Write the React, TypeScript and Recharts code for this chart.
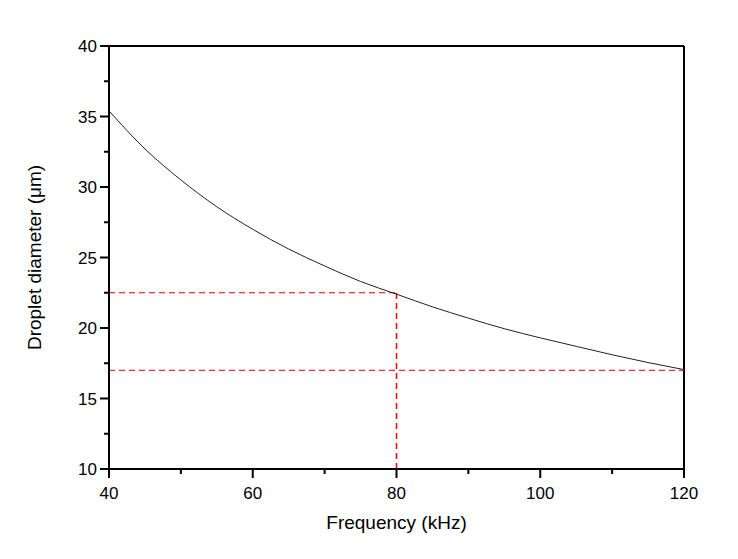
import React from 'react';
import { LineChart, Line, XAxis, YAxis, ReferenceLine } from 'recharts';

const frequencies = [40, 45, 50, 55, 60, 65, 70, 75, 80, 85, 90, 95, 100, 105, 110, 115, 120];
const diameters = [35.4, 32.7, 30.5, 28.6, 27.0, 25.6, 24.4, 23.3, 22.4, 21.5, 20.7, 19.95, 19.3, 18.7, 18.1, 17.55, 17.05];
const xTicks = [40, 50, 60, 70, 80, 90, 100, 110, 120];
const xMajor = [40, 60, 80, 100, 120];
const yTicks = [10, 12.5, 15, 17.5, 20, 22.5, 25, 27.5, 30, 32.5, 35, 37.5, 40];
const yMajor = [10, 15, 20, 25, 30, 35, 40];
const markFreq = 80;
const markDiam = 22.5;
const minDiam = 17.0;

const data = frequencies.map((f, i) => ({ f, d: diameters[i] }));

const FONT = 'Liberation Sans, Arial, sans-serif';

const XTick = (props: any) => {
  const { x, y, payload } = props;
  const major = xMajor.includes(payload.value);
  return (
    <g>
      <line x1={x} x2={x} y1={y} y2={y + (major ? 9 : 5)} stroke="#000" strokeWidth={2} />
      {major && (
        <text x={x} y={y + 30} textAnchor="middle" fontSize={17} fontFamily={FONT} fill="#000">
          {payload.value}
        </text>
      )}
    </g>
  );
};

const YTick = (props: any) => {
  const { x, y, payload } = props;
  const major = yMajor.includes(payload.value);
  return (
    <g>
      <line x1={x} x2={x - (major ? 9 : 5)} y1={y} y2={y} stroke="#000" strokeWidth={2} />
      {major && (
        <text x={x - 12} y={y + 6} textAnchor="end" fontSize={17} fontFamily={FONT} fill="#000">
          {payload.value}
        </text>
      )}
    </g>
  );
};

export default function App() {
  return (
    <div style={{ position: 'absolute', left: 0, top: 0, width: 738, height: 559, background: '#fff' }}>
      <LineChart width={738} height={559} data={data} margin={{ top: 46, right: 54, bottom: 0, left: 0 }}>
        <XAxis
          dataKey="f"
          type="number"
          domain={[40, 120]}
          ticks={xTicks}
          interval={0}
          tickSize={0}
          tickMargin={0}
          tickLine={false}
          tick={<XTick />}
          axisLine={{ stroke: '#000', strokeWidth: 2 }}
          height={90}
          label={{ value: 'Frequency (kHz)', position: 'insideBottom', offset: 30, fontSize: 19, fontFamily: FONT, fill: '#000' }}
        />
        <YAxis
          type="number"
          domain={[10, 40]}
          ticks={yTicks}
          interval={0}
          tickSize={0}
          tickMargin={0}
          tickLine={false}
          tick={<YTick />}
          axisLine={{ stroke: '#000', strokeWidth: 2 }}
          width={109}
          label={{ value: 'Droplet diameter (\u03bcm)', angle: -90, position: 'insideLeft', offset: 34, fontSize: 19, fontFamily: FONT, fill: '#000', style: { textAnchor: 'middle' } }}
        />
        <ReferenceLine y={40} stroke="#000" strokeWidth={2} />
        <ReferenceLine x={120} stroke="#000" strokeWidth={2} />
        <ReferenceLine segment={[{ x: 40, y: markDiam }, { x: markFreq, y: markDiam }]} stroke="#e00000" strokeWidth={1} strokeDasharray="6 4" />
        <ReferenceLine segment={[{ x: 40, y: minDiam }, { x: 120, y: minDiam }]} stroke="#e00000" strokeWidth={1} strokeDasharray="6 4" />
        <ReferenceLine segment={[{ x: markFreq, y: 10 }, { x: markFreq, y: markDiam }]} stroke="#ff0000" strokeWidth={1.5} strokeDasharray="6 4" />
        <Line type="monotone" dataKey="d" stroke="#222" strokeWidth={1} dot={false} isAnimationActive={false} />
      </LineChart>
    </div>
  );
}
